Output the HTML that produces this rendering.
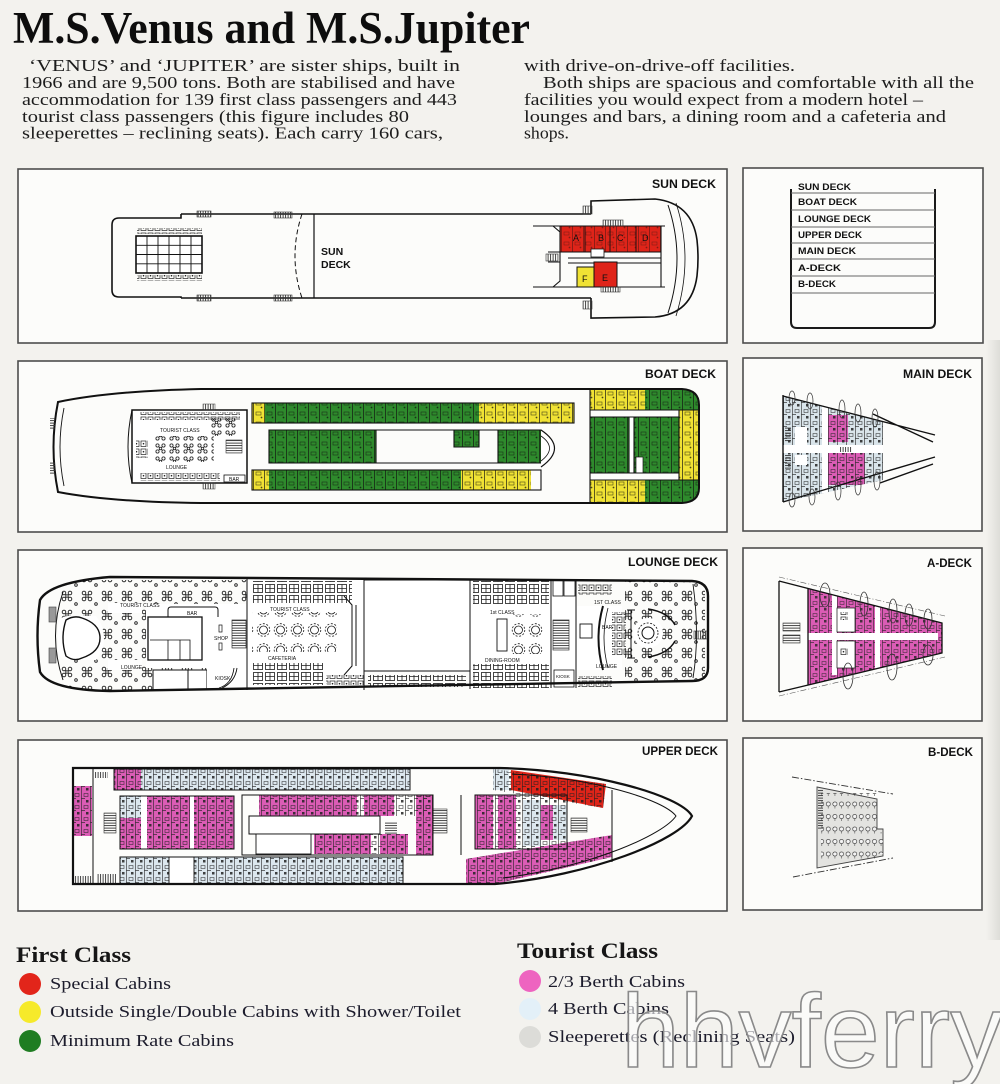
<!DOCTYPE html>
<html><head><meta charset="utf-8">
<style>
html,body{margin:0;padding:0;background:#f3f2ee;width:1000px;height:1084px;overflow:hidden}
svg{display:block}
.ser{font-family:"Liberation Serif",serif}
.san{font-family:"Liberation Sans",sans-serif;font-weight:bold}
.sn{font-family:"Liberation Sans",sans-serif}
</style></head><body>
<svg xmlns="http://www.w3.org/2000/svg" width="1000" height="1084" viewBox="0 0 1000 1084">
<defs>
<linearGradient id="edge" x1="0" x2="1" y1="0" y2="0">
<stop offset="0" stop-color="#d0d0cb" stop-opacity="0"/><stop offset="1" stop-color="#cfcfca" stop-opacity="0.6"/>
</linearGradient>
<pattern id="cab" width="11" height="10" patternUnits="userSpaceOnUse">
<path d="M0.5 0V10" stroke="#111" stroke-width="0.9"/>
<rect x="3" y="2" width="5" height="3" fill="none" stroke="#111" stroke-width="0.6"/>
<circle cx="8.5" cy="7.5" r="0.9" fill="#111"/>
</pattern>
<pattern id="cab2" width="9" height="12" patternUnits="userSpaceOnUse">
<path d="M0.5 0V12M0 6.5H4" stroke="#222" stroke-width="0.7"/>
<rect x="3" y="1.5" width="4" height="3" fill="none" stroke="#222" stroke-width="0.6"/>
<rect x="5" y="8" width="2.5" height="2.5" fill="#222"/>
</pattern>
<pattern id="clover" width="14" height="13" patternUnits="userSpaceOnUse">
<g fill="none" stroke="#1a1a1a" stroke-width="0.8">
<circle cx="3.5" cy="3.5" r="1.6"/><circle cx="9.5" cy="3.5" r="1.6"/>
<circle cx="3.5" cy="9.5" r="1.6"/><circle cx="9.5" cy="9.5" r="1.6"/>
<rect x="5.3" y="5.3" width="2.4" height="2.4"/>
</g>
</pattern>
<pattern id="cl2" width="20" height="19" patternUnits="userSpaceOnUse">
<g fill="none" stroke="#1a1a1a" stroke-width="0.9">
<circle cx="4" cy="4" r="1.8"/><circle cx="10" cy="4" r="1.8"/>
<circle cx="4" cy="10" r="1.8"/><circle cx="10" cy="10" r="1.8"/>
<rect x="5.8" y="5.8" width="2.4" height="2.4"/>
<circle cx="16" cy="15" r="1.3"/>
</g>
</pattern>
<pattern id="booth" width="12" height="11" patternUnits="userSpaceOnUse">
<g fill="none" stroke="#1a1a1a" stroke-width="0.8">
<rect x="1.5" y="1.5" width="9" height="8"/><path d="M6 1.5V9.5M1.5 5.5H10.5"/>
</g>
</pattern>
<pattern id="mini" width="7" height="8" patternUnits="userSpaceOnUse">
<rect x="1" y="1" width="5" height="5.5" fill="none" stroke="#222" stroke-width="0.7"/>
<circle cx="3.5" cy="3.7" r="0.8" fill="#222"/>
</pattern>
<pattern id="rtab" width="17" height="20" patternUnits="userSpaceOnUse">
<g fill="none" stroke="#1a1a1a" stroke-width="0.8">
<circle cx="8.5" cy="10" r="4"/><circle cx="8.5" cy="10" r="6.3" stroke-dasharray="2 1.6"/>
</g>
</pattern>
<pattern id="seat" width="6.6" height="12.5" patternUnits="userSpaceOnUse">
<circle cx="3.3" cy="4" r="2.1" fill="#f4f4f4" stroke="#333" stroke-width="0.6"/>
<path d="M3.3 6.3V8.5" stroke="#333" stroke-width="0.5"/>
</pattern>
<pattern id="hatch" width="2.5" height="4" patternUnits="userSpaceOnUse">
<path d="M0.6 0V4" stroke="#333" stroke-width="0.9"/>
</pattern>
<pattern id="hatchH" width="4" height="2.5" patternUnits="userSpaceOnUse">
<path d="M0 0.6H4" stroke="#333" stroke-width="0.9"/>
</pattern>
<clipPath id="bclip"><path d="M58,402 Q110,391 201,389 L682,389 Q699,390 699,405 L699,488 Q699,502 682,503 L201,503 Q110,502 58,492 Q49,447 58,402 Z"/></clipPath>
<clipPath id="lclip"><path d="M40,600 Q50,582 110,577 L692,581 Q708,582 708,596 L708,668 Q708,681 692,681 L110,691 Q50,690 40,672 Q35,636 40,600 Z"/></clipPath>
<clipPath id="uclip"><path d="M73,768 H500 C590,770 680,795 692,816 C680,840 590,876 495,884 H73 Z"/></clipPath>
<clipPath id="mclip"><path d="M783,396 L883,422 L883,480 L783,502 Z"/></clipPath>
<clipPath id="aclip"><path d="M779,581 L942,623 L942,653 L779,692 Z"/></clipPath>
</defs>

<rect width="1000" height="1084" fill="#f3f2ee"/>
<rect x="986" y="340" width="14" height="600" fill="url(#edge)"/>

<!-- Title -->
<text x="13" y="43" class="ser" font-weight="bold" font-size="45" textLength="517" lengthAdjust="spacingAndGlyphs" fill="#0d0d0d">M.S.Venus and M.S.Jupiter</text>

<g class="ser" font-size="17" fill="#1c1c1c">
<text x="29" y="71" textLength="431" lengthAdjust="spacingAndGlyphs">‘VENUS’ and ‘JUPITER’ are sister ships, built in</text>
<text x="22" y="88" textLength="433" lengthAdjust="spacingAndGlyphs">1966 and are 9,500 tons. Both are stabilised and have</text>
<text x="22" y="105" textLength="435" lengthAdjust="spacingAndGlyphs">accommodation for 139 first class passengers and 443</text>
<text x="22" y="122" textLength="387" lengthAdjust="spacingAndGlyphs">tourist class passengers (this figure includes 80</text>
<text x="22" y="138.5" textLength="421" lengthAdjust="spacingAndGlyphs">sleeperettes – reclining seats). Each carry 160 cars,</text>
<text x="524" y="71" textLength="271" lengthAdjust="spacingAndGlyphs">with drive-on-drive-off facilities.</text>
<text x="543" y="88" textLength="431" lengthAdjust="spacingAndGlyphs">Both ships are spacious and comfortable with all the</text>
<text x="524" y="105" textLength="399" lengthAdjust="spacingAndGlyphs">facilities you would expect from a modern hotel –</text>
<text x="524" y="122" textLength="422" lengthAdjust="spacingAndGlyphs">lounges and bars, a dining room and a cafeteria and</text>
<text x="524" y="138.5" textLength="45" lengthAdjust="spacingAndGlyphs">shops.</text>
</g>

<!-- Panels -->
<g fill="#fcfcfa" stroke="#4d4d4d" stroke-width="1.6">
<rect x="18" y="169" width="709" height="174"/>
<rect x="743" y="168" width="240" height="175"/>
<rect x="18" y="361" width="709" height="171"/>
<rect x="743" y="358" width="239" height="173"/>
<rect x="18" y="550" width="709" height="171"/>
<rect x="743" y="548" width="239" height="173"/>
<rect x="18" y="740" width="709" height="171"/>
<rect x="743" y="738" width="239" height="172"/>
</g>

<!-- ========== SUN DECK ========== -->
<text x="716" y="188" class="san" font-size="11.5" textLength="64" lengthAdjust="spacingAndGlyphs" text-anchor="end" fill="#111">SUN DECK</text>
<g fill="none" stroke="#111" stroke-width="1.6">
<path d="M181,214 H591 M181,298 H591"/>
<path d="M181,214 V218 H119 Q112,218 112,225 V290 Q112,297 119,297 H181 V298"/>
<path d="M591,214 V201 L655,199 Q692,203 697,240 Q699,258 697,276 Q692,314 655,317 L591,318 V298"/>
<path d="M668,205 Q686,258 668,313" stroke-width="1"/>
<path d="M676,203 Q694,258 676,316" stroke-width="0.8"/>
<path d="M314,214 V298" stroke-width="1.2"/>
<path d="M302,214 Q288,256 302,298" stroke-width="1" stroke-dasharray="5 3"/>
</g>
<g fill="none" stroke="#111" stroke-width="1.1">
<path d="M533,226 H665 M533,287 H665 M661,226 V287"/>
<path d="M553,226 L560,232 V281 L553,287"/>
<path d="M568,258 H661 M568,263 H661"/>
<path d="M548,252 H560 M548,262 H560"/>
</g>
<rect x="560" y="226" width="101" height="26" fill="#df2419" stroke="#111" stroke-width="1"/>
<rect x="560" y="226" width="101" height="26" fill="url(#cab)" opacity="0.45"/>
<path d="M585,226V252M610,226V252M636,226V252" stroke="#111" stroke-width="0.9"/>
<rect x="594" y="262" width="23" height="25" fill="#df2419" stroke="#111" stroke-width="1"/>
<rect x="577" y="267" width="17" height="20" fill="#f0e234" stroke="#111" stroke-width="1"/>
<rect x="591" y="249" width="13" height="8" fill="#fff" stroke="#111" stroke-width="0.8"/>
<g class="sn" font-size="9" fill="#111">
<text x="573" y="241">A</text><text x="598" y="241">B</text><text x="617" y="241">C</text><text x="642" y="241">D</text>
<text x="602" y="281">E</text><text x="582" y="282">F</text>
</g>
<g fill="url(#hatch)" stroke="#333" stroke-width="0.6">
<rect x="197" y="211" width="14" height="6"/><rect x="197" y="295" width="14" height="6"/>
<rect x="274" y="212" width="18" height="6"/><rect x="274" y="295" width="18" height="6"/>
<rect x="583" y="206" width="9" height="8"/><rect x="583" y="301" width="9" height="8"/>
<rect x="603" y="220" width="20" height="6"/><rect x="601" y="287" width="19" height="5"/>
<rect x="546" y="254" width="12" height="7"/>
</g>
<!-- pool -->
<rect x="136" y="236" width="66" height="37" fill="#fff" stroke="#111" stroke-width="1.6"/>
<path d="M147,236V273M158,236V273M169,236V273M180,236V273M191,236V273M136,245.3H202M136,254.5H202M136,263.8H202" stroke="#111" stroke-width="0.9"/>
<rect x="137" y="228" width="65" height="6" fill="url(#mini)"/>
<rect x="137" y="275" width="65" height="6" fill="url(#mini)"/>
<g class="san" font-size="10.5" fill="#111">
<text x="321" y="255">SUN</text><text x="321" y="268">DECK</text>
</g>

<!-- legend box -->
<path d="M791,189 V322 Q791,328 797,328 H929 Q935,328 935,322 V189" fill="none" stroke="#1a1a1a" stroke-width="2"/>
<path d="M791,193H935M791,210H935M791,227H935M791,243H935M791,259H935M791,276H935M791,293H935" stroke="#666" stroke-width="1"/>
<g class="san" font-size="9.5" fill="#111">
<text x="798" y="190" textLength="53" lengthAdjust="spacingAndGlyphs">SUN DECK</text>
<text x="798" y="205" textLength="59" lengthAdjust="spacingAndGlyphs">BOAT DECK</text>
<text x="798" y="222" textLength="73" lengthAdjust="spacingAndGlyphs">LOUNGE DECK</text>
<text x="798" y="238" textLength="64" lengthAdjust="spacingAndGlyphs">UPPER DECK</text>
<text x="798" y="254" textLength="58" lengthAdjust="spacingAndGlyphs">MAIN DECK</text>
<text x="798" y="271" textLength="43" lengthAdjust="spacingAndGlyphs">A-DECK</text>
<text x="798" y="287" textLength="38" lengthAdjust="spacingAndGlyphs">B-DECK</text>
</g>

<!-- ========== BOAT DECK ========== -->
<text x="716" y="378" class="san" font-size="11.5" textLength="71" lengthAdjust="spacingAndGlyphs" text-anchor="end" fill="#111">BOAT DECK</text>
<g clip-path="url(#bclip)">
<rect x="252" y="403" width="13" height="20" fill="#f0e234"/>
<rect x="265" y="403" width="214" height="20" fill="#2e8a2c"/>
<rect x="479" y="403" width="95" height="20" fill="#f0e234"/>
<rect x="252" y="470" width="17" height="20" fill="#f0e234"/>
<rect x="269" y="470" width="192" height="20" fill="#2e8a2c"/>
<rect x="461" y="470" width="70" height="20" fill="#f0e234"/>
<rect x="269" y="430" width="107" height="33" fill="#2e8a2c"/>
<rect x="454" y="430" width="25" height="17" fill="#2e8a2c"/>
<rect x="498" y="430" width="43" height="33" fill="#2e8a2c"/>
<rect x="590" y="389" width="55" height="21" fill="#f0e234"/>
<rect x="645" y="389" width="56" height="21" fill="#2e8a2c"/>
<rect x="679" y="410" width="22" height="70" fill="#f0e234"/>
<rect x="590" y="417" width="39" height="56" fill="#2e8a2c"/>
<rect x="634" y="417" width="45" height="56" fill="#2e8a2c"/>
<rect x="590" y="480" width="55" height="24" fill="#f0e234"/>
<rect x="645" y="480" width="56" height="24" fill="#2e8a2c"/>
<g fill="url(#cab)" opacity="0.75">
<rect x="252" y="403" width="322" height="20"/><rect x="252" y="470" width="279" height="20"/>
<rect x="269" y="430" width="107" height="33"/><rect x="454" y="430" width="25" height="17"/>
<rect x="498" y="430" width="43" height="33"/><rect x="590" y="389" width="111" height="21"/>
<rect x="679" y="410" width="22" height="70"/><rect x="590" y="417" width="89" height="56"/>
<rect x="590" y="480" width="111" height="24"/>
</g>
<rect x="636" y="457" width="7" height="16" fill="#fff" stroke="#111" stroke-width="0.7"/>
<rect x="629" y="417" width="5" height="56" fill="#fff"/>
</g>
<g fill="none" stroke="#111" stroke-width="1.1">
<rect x="252" y="403" width="322" height="20"/>
<rect x="252" y="470" width="289" height="20"/>
<path d="M269,430 H541 V463 H269 Z"/>
<path d="M376,430 V463 M454,430 V447 H479 V430 M498,430 V463"/>
<path d="M590,389 V503 M590,410 H699 M590,417 H679 M590,473 H679 M590,480 H699 M629,417 V473 M634,417 V473 M679,410 V480"/>
</g>
<path d="M541,430 Q568,448 541,467" fill="#fff" stroke="#111" stroke-width="1.2"/>
<path d="M541,436 Q558,448 541,461" fill="none" stroke="#111" stroke-width="0.8"/>
<path d="M58,402 Q110,391 201,389 L682,389 Q699,390 699,405 L699,488 Q699,502 682,503 L201,503 Q110,502 58,492 Q49,447 58,402 Z" fill="none" stroke="#111" stroke-width="2"/>
<path d="M64,408 Q56,447 64,486" fill="none" stroke="#111" stroke-width="0.9"/>
<rect x="50" y="418" width="5" height="12" fill="url(#hatchH)"/>
<rect x="50" y="462" width="5" height="12" fill="url(#hatchH)"/>
<!-- tourist lounge -->
<rect x="132" y="410" width="115" height="73" fill="#fff" stroke="#111" stroke-width="1.5"/>
<path d="M132,410 Q124,447 132,483" fill="none" stroke="#111" stroke-width="1"/>
<rect x="140" y="412" width="100" height="8" fill="url(#mini)"/>
<rect x="140" y="473" width="80" height="8" fill="url(#mini)"/>
<rect x="152" y="436" width="62" height="26" fill="url(#clover)"/>
<rect x="210" y="418" width="26" height="18" fill="url(#clover)"/>
<rect x="136" y="440" width="12" height="18" fill="url(#mini)"/>
<rect x="226" y="440" width="16" height="13" fill="url(#hatchH)" stroke="#333" stroke-width="0.6"/>
<rect x="224" y="475" width="21" height="7" fill="#fff" stroke="#111" stroke-width="0.8"/>
<rect x="203" y="404" width="12" height="6" fill="url(#hatch)" stroke="#333" stroke-width="0.5"/>
<rect x="203" y="483" width="12" height="6" fill="url(#hatch)" stroke="#333" stroke-width="0.5"/>
<g class="sn" font-size="5" fill="#111">
<text x="160" y="432">TOURIST CLASS</text><text x="166" y="469">LOUNGE</text><text x="229" y="481">BAR</text>
</g>

<!-- ========== LOUNGE DECK ========== -->
<text x="718" y="566" class="san" font-size="11.5" textLength="90" lengthAdjust="spacingAndGlyphs" text-anchor="end" fill="#111">LOUNGE DECK</text>
<g clip-path="url(#lclip)">
<rect x="60" y="580" width="187" height="111" fill="url(#cl2)"/>
<rect x="625" y="580" width="80" height="111" fill="url(#cl2)"/>
</g>
<!-- tourist lounge whites -->
<path d="M68,616 Q58,616 58,628 V648 Q58,660 68,660 H96 Q104,650 104,638 Q104,626 96,616 Z" fill="#fff"/>
<path d="M66,620 Q60,638 66,656 Q74,662 82,658 Q100,652 100,638 Q100,624 82,618 Q74,615 66,620 Z" fill="#fff" stroke="#111" stroke-width="1.4"/>
<path d="M63,592 Q48,636 63,680" fill="none" stroke="#111" stroke-width="1"/>
<rect x="49" y="607" width="7" height="15" fill="#999" stroke="#444" stroke-width="0.6"/>
<rect x="49" y="648" width="7" height="15" fill="#999" stroke="#444" stroke-width="0.6"/>
<rect x="146" y="604" width="101" height="64" fill="#fff"/>
<rect x="108" y="603" width="34" height="10" fill="#fff"/>
<rect x="108" y="660" width="34" height="10" fill="#fff"/>
<path d="M168,617 V610 Q168,607 171,607 H215 Q218,607 218,610 V617" fill="#fff" stroke="#111" stroke-width="1"/>
<rect x="148" y="617" width="54" height="43" fill="#fff" stroke="#111" stroke-width="1.3"/>
<path d="M150,640 H190 V660 M168,640 V660 M180,640 V660" fill="none" stroke="#111" stroke-width="0.8"/>
<rect x="232" y="620" width="14" height="28" fill="url(#hatchH)" stroke="#333" stroke-width="0.7"/>
<rect x="219" y="625" width="3" height="7" fill="none" stroke="#111" stroke-width="0.7"/>
<rect x="219" y="643" width="3" height="7" fill="none" stroke="#111" stroke-width="0.7"/>
<rect x="153" y="670" width="35" height="20" fill="#fff" stroke="#111" stroke-width="1"/>
<rect x="188" y="670" width="19" height="20" fill="#fff" stroke="#111" stroke-width="1"/>
<rect x="207" y="662" width="40" height="28" fill="#fff"/>
<path d="M219,688 Q232,684 234,668 M222,688 Q235,682 237,668" fill="none" stroke="#111" stroke-width="0.9"/>
<g class="sn" font-size="5" fill="#111">
<text x="120" y="607">TOURIST CLASS</text><text x="187" y="615">BAR</text>
<text x="214" y="640">SHOP</text><text x="121" y="669">LOUNGE</text><text x="215" y="680">KIOSK</text>
</g>
<!-- cafeteria -->
<rect x="248" y="579" width="116" height="111" fill="#fff"/>
<rect x="252" y="581" width="100" height="22" fill="url(#booth)"/>
<rect x="252" y="612" width="85" height="40" fill="url(#rtab)"/>
<rect x="252" y="663" width="72" height="22" fill="url(#booth)"/>
<rect x="326" y="675" width="38" height="10" fill="url(#mini)"/>
<path d="M344,596 L352,605 V666 L344,675 M356,605 V666" fill="none" stroke="#111" stroke-width="1"/>
<g class="sn" font-size="5" fill="#111">
<text x="270" y="611">TOURIST CLASS</text><text x="268" y="660">CAFETERIA</text>
</g>
<!-- center void -->
<rect x="364" y="580" width="106" height="91" fill="#fff" stroke="#111" stroke-width="1"/>
<rect x="368" y="675" width="98" height="12" fill="url(#booth)"/>
<!-- dining -->
<rect x="471" y="580" width="80" height="110" fill="#fff"/>
<rect x="473" y="581" width="76" height="24" fill="url(#booth)"/>
<rect x="497" y="619" width="10" height="32" fill="#fff" stroke="#111" stroke-width="0.9"/>
<rect x="510" y="614" width="34" height="40" fill="url(#rtab)"/>
<rect x="473" y="664" width="76" height="24" fill="url(#booth)"/>
<g class="sn" font-size="5" fill="#111">
<text x="490" y="614">1st CLASS</text><text x="485" y="662">DINING-ROOM</text>
</g>
<!-- between -->
<rect x="551" y="580" width="25" height="110" fill="#fff"/>
<rect x="553" y="580" width="10" height="16" fill="none" stroke="#111" stroke-width="0.8"/>
<rect x="564" y="580" width="11" height="16" fill="none" stroke="#111" stroke-width="0.8"/>
<rect x="553" y="620" width="16" height="30" fill="url(#hatchH)" stroke="#333" stroke-width="0.7"/>
<rect x="554" y="670" width="20" height="17" fill="#fff" stroke="#111" stroke-width="0.8"/>
<text x="556" y="678" class="sn" font-size="4.5" fill="#111">KIOSK</text>
<!-- 1st class lounge -->
<rect x="577" y="606" width="45" height="64" fill="#fff"/>
<rect x="578" y="583" width="34" height="12" fill="url(#mini)"/>
<rect x="578" y="676" width="34" height="11" fill="url(#mini)"/>
<circle cx="648" cy="633" r="15" fill="#fff"/>
<circle cx="648" cy="633" r="6" fill="none" stroke="#111" stroke-width="1"/>
<circle cx="648" cy="633" r="10" fill="none" stroke="#111" stroke-width="0.8" stroke-dasharray="2 1.5"/>
<path d="M603,606 Q594,638 603,670" fill="none" stroke="#111" stroke-width="2"/>
<path d="M608,608 Q600,638 608,668" fill="none" stroke="#111" stroke-width="0.8"/>
<path d="M631,610 V658 M627,610 H635 M627,658 H635" fill="none" stroke="#111" stroke-width="1"/>
<rect x="612" y="612" width="14" height="44" fill="url(#mini)"/>
<path d="M648,609 Q668,612 675,625" fill="none" stroke="#111" stroke-width="1.4"/>
<path d="M648,657 Q668,654 675,641" fill="none" stroke="#111" stroke-width="1.4"/>
<rect x="580" y="624" width="12" height="14" fill="#fff" stroke="#111" stroke-width="0.9"/>
<rect x="694" y="631" width="13" height="8" fill="url(#hatch)" stroke="#333" stroke-width="0.6"/>
<g class="sn" font-size="5" fill="#111">
<text x="594" y="604">1ST CLASS</text><text x="602" y="629">BAR</text><text x="596" y="668">LOUNGE</text>
</g>
<g fill="none" stroke="#111" stroke-width="1">
<path d="M247,578 V690 M364,579 V690 M470,580 V689 M551,580 V688 M576,580 V688"/>
</g>
<path d="M40,600 Q50,582 110,577 L692,581 Q708,582 708,596 L708,668 Q708,681 692,681 L110,691 Q50,690 40,672 Q35,636 40,600 Z" fill="none" stroke="#111" stroke-width="2.4"/>
<path d="M693,584 Q700,636 693,678" fill="none" stroke="#111" stroke-width="0.9"/>

<!-- ========== UPPER DECK ========== -->
<text x="718" y="755" class="san" font-size="11.5" textLength="76" lengthAdjust="spacingAndGlyphs" text-anchor="end" fill="#111">UPPER DECK</text>
<g clip-path="url(#uclip)">
<rect x="73" y="768" width="620" height="116" fill="#fdfdfb"/>
<g fill="#db5cb5">
<rect x="74" y="786" width="18" height="50"/>
<rect x="114" y="769" width="27" height="21"/>
<rect x="120" y="818" width="21" height="31"/>
<rect x="147" y="796" width="43" height="53"/>
<rect x="194" y="796" width="40" height="53"/>
<rect x="259" y="795" width="98" height="21"/>
<rect x="364" y="795" width="30" height="21"/>
<rect x="416" y="795" width="17" height="60"/>
<rect x="314" y="834" width="57" height="20"/>
<rect x="380" y="834" width="28" height="20"/>
<rect x="475" y="795" width="18" height="54"/>
<rect x="498" y="795" width="18" height="54"/>
<rect x="541" y="805" width="12" height="35"/>
<polygon points="466,859 612,835 612,857 495,884 466,884"/>
</g>
<g fill="#dce7ee">
<rect x="141" y="769" width="269" height="21"/>
<rect x="120" y="796" width="21" height="22"/>
<rect x="523" y="800" width="18" height="46"/>
<rect x="553" y="805" width="14" height="35"/>
<rect x="120" y="857" width="49" height="27"/>
<rect x="194" y="857" width="209" height="27"/>
<rect x="493" y="769" width="16" height="21"/>
</g>
<polygon points="511,770 606,784 603,808 511,790" fill="#df2419"/>
<g fill="url(#cab2)" opacity="0.85">
<rect x="74" y="786" width="18" height="50"/>
<rect x="114" y="769" width="296" height="21"/>
<rect x="120" y="796" width="114" height="53"/>
<rect x="259" y="795" width="174" height="21"/>
<rect x="416" y="795" width="17" height="60"/>
<rect x="314" y="834" width="94" height="20"/>
<rect x="475" y="795" width="92" height="54"/>
<rect x="120" y="857" width="283" height="27"/>
<polygon points="466,859 612,835 612,857 495,884 466,884"/>
<polygon points="493,769 606,784 603,808 493,790"/>
</g>
<rect x="169" y="857" width="25" height="27" fill="#fff" stroke="#111" stroke-width="0.9"/>
<rect x="141" y="796" width="6" height="53" fill="#fff"/>
<rect x="190" y="796" width="4" height="53" fill="#fff"/>
<rect x="249" y="816" width="131" height="18" fill="#fff" stroke="#111" stroke-width="1"/>
<rect x="256" y="834" width="55" height="20" fill="#fff" stroke="#111" stroke-width="0.9"/>
<rect x="95" y="772" width="13" height="6" fill="url(#hatch)"/>
<rect x="97" y="874" width="19" height="9" fill="url(#hatch)"/>
<rect x="104" y="813" width="12" height="20" fill="url(#hatchH)" stroke="#333" stroke-width="0.6"/>
<rect x="433" y="809" width="14" height="24" fill="url(#hatchH)" stroke="#333" stroke-width="0.6"/>
<rect x="571" y="818" width="16" height="14" fill="url(#hatchH)" stroke="#333" stroke-width="0.6"/>
<rect x="74" y="876" width="18" height="8" fill="url(#hatch)"/>
<rect x="385" y="822" width="12" height="12" fill="url(#hatchH)"/>
</g>
<g fill="none" stroke="#111" stroke-width="1">
<rect x="73" y="768" width="20" height="116"/>
<rect x="114" y="769" width="296" height="21"/>
<rect x="120" y="796" width="114" height="53"/>
<rect x="242" y="795" width="191" height="60"/>
<rect x="120" y="857" width="283" height="27"/>
<rect x="475" y="795" width="92" height="54"/>
<path d="M461,795 V855 M612,790 V862"/>
<path d="M512,774 C595,778 664,800 676,816 C664,834 595,866 503,878"/>
</g>
<path d="M73,768 H500 C590,770 680,795 692,816 C680,840 590,876 495,884 H73 Z" fill="none" stroke="#111" stroke-width="2.2"/>

<!-- ========== MAIN DECK ========== -->
<text x="972" y="378" class="san" font-size="11.5" textLength="69" lengthAdjust="spacingAndGlyphs" text-anchor="end" fill="#111">MAIN DECK</text>
<g clip-path="url(#mclip)">
<rect x="783" y="396" width="100" height="106" fill="#d9e4ea"/>
<rect x="828" y="415" width="20" height="27" fill="#db5cb5"/>
<rect x="828" y="453" width="37" height="32" fill="#db5cb5"/>
<rect x="783" y="396" width="100" height="106" fill="url(#cab2)" opacity="0.85"/>
<rect x="783" y="445" width="100" height="8" fill="#fff"/>
<rect x="822" y="405" width="6" height="90" fill="#fff"/>
<rect x="795" y="427" width="12" height="18" fill="#fff"/>
<rect x="795" y="455" width="12" height="10" fill="#fff"/>
<rect x="785" y="427" width="6" height="15" fill="url(#hatchH)"/>
<rect x="785" y="455" width="6" height="14" fill="url(#hatchH)"/>
<rect x="840" y="447" width="12" height="5" fill="url(#hatch)"/>
</g>
<g fill="none" stroke="#111" stroke-width="1.4">
<path d="M783,395 V502 M783,396 L935,435 M783,502 L935,457 M873,414 L933,442 M880,483 L933,464"/>
</g>
<g fill="none" stroke="#333" stroke-width="0.7">
<ellipse cx="792" cy="398" rx="3" ry="7"/><ellipse cx="810" cy="401" rx="3" ry="8"/>
<ellipse cx="842" cy="409" rx="3" ry="9"/><ellipse cx="858" cy="413" rx="3" ry="9"/>
<ellipse cx="875" cy="418" rx="3" ry="9"/>
<ellipse cx="792" cy="500" rx="3" ry="7"/><ellipse cx="812" cy="497" rx="3" ry="8"/>
<ellipse cx="838" cy="491" rx="3" ry="9"/><ellipse cx="858" cy="486" rx="3" ry="9"/>
<ellipse cx="877" cy="481" rx="3" ry="9"/>
</g>

<!-- ========== A-DECK ========== -->
<text x="972" y="567" class="san" font-size="11.5" textLength="45" lengthAdjust="spacingAndGlyphs" text-anchor="end" fill="#111">A-DECK</text>
<g clip-path="url(#aclip)">
<polygon points="808,588 942,622 942,653 808,685" fill="#db5cb5"/>
<polygon points="808,588 942,622 942,653 808,685" fill="url(#cab2)" opacity="0.8"/>
<rect x="790" y="633" width="148" height="7" fill="#fff"/>
<rect x="832" y="595" width="5" height="80" fill="#fff"/>
<rect x="875" y="600" width="5" height="72" fill="#fff"/>
<rect x="837" y="608" width="18" height="24" fill="#fff" stroke="#111" stroke-width="0.7"/>
<rect x="837" y="641" width="18" height="27" fill="#fff" stroke="#111" stroke-width="0.7"/>
<rect x="840" y="612" width="8" height="8" fill="url(#mini)"/>
<rect x="840" y="648" width="8" height="8" fill="url(#mini)"/>
</g>
<rect x="783" y="623" width="17" height="8" fill="url(#hatchH)" stroke="#333" stroke-width="0.6"/>
<rect x="783" y="635" width="17" height="8" fill="url(#hatchH)" stroke="#333" stroke-width="0.6"/>
<g fill="none" stroke="#111" stroke-width="1.3">
<path d="M779,581 V692 M779,581 L942,623 V653 L779,692 M808,588 V685"/>
</g>
<path d="M779,577 L945,616 M779,696 L945,657" fill="none" stroke="#555" stroke-width="0.6" stroke-dasharray="6 2 1 2"/>
<g fill="none" stroke="#333" stroke-width="0.8">
<ellipse cx="825" cy="595" rx="5" ry="12"/><ellipse cx="864" cy="604" rx="4" ry="12"/>
<ellipse cx="893" cy="611" rx="4" ry="12"/><ellipse cx="909" cy="615" rx="4" ry="11"/>
<ellipse cx="928" cy="619" rx="4" ry="10"/>
<ellipse cx="848" cy="676" rx="5" ry="13"/><ellipse cx="892" cy="667" rx="5" ry="13"/>
<ellipse cx="928" cy="655" rx="5" ry="10"/>
</g>

<!-- ========== B-DECK ========== -->
<text x="973" y="756" class="san" font-size="11.5" textLength="45" lengthAdjust="spacingAndGlyphs" text-anchor="end" fill="#111">B-DECK</text>
<path d="M792,777 L893,794 M793,877 L893,858" fill="none" stroke="#333" stroke-width="0.9" stroke-dasharray="7 2 1.5 2"/>
<polygon points="817,787 877,799 877,829 883,829 883,856 817,868" fill="#e3e3e0" stroke="#444" stroke-width="0.9"/>
<rect x="821" y="793" width="56" height="70" fill="url(#seat)"/>
<rect x="877" y="832" width="6" height="22" fill="url(#seat)"/>
<rect x="818" y="790" width="5" height="40" fill="url(#hatchH)"/>

<!-- ========== LEGEND ========== -->
<text x="16" y="962" class="ser" font-weight="bold" font-size="22" textLength="115" lengthAdjust="spacingAndGlyphs" fill="#161616">First Class</text>
<circle cx="30" cy="984" r="11" fill="#e2251a"/>
<circle cx="30" cy="1012" r="11" fill="#f6ea2a"/>
<circle cx="30" cy="1041" r="11" fill="#1f7d22"/>
<g class="ser" font-size="17" fill="#1c1c2c">
<text x="50" y="989" textLength="121" lengthAdjust="spacingAndGlyphs">Special Cabins</text>
<text x="50" y="1017" textLength="411" lengthAdjust="spacingAndGlyphs">Outside Single/Double Cabins with Shower/Toilet</text>
<text x="50" y="1046" textLength="184" lengthAdjust="spacingAndGlyphs">Minimum Rate Cabins</text>
</g>
<text x="517" y="958" class="ser" font-weight="bold" font-size="22" textLength="141" lengthAdjust="spacingAndGlyphs" fill="#161616">Tourist Class</text>
<circle cx="530" cy="981" r="11" fill="#ee64c0"/>
<circle cx="530" cy="1009" r="11" fill="#e3f0f8"/>
<circle cx="530" cy="1037" r="11" fill="#dcdcd8"/>
<g class="ser" font-size="17" fill="#1c1c2c">
<text x="548" y="987" textLength="137" lengthAdjust="spacingAndGlyphs">2/3 Berth Cabins</text>
<text x="548" y="1014" textLength="121" lengthAdjust="spacingAndGlyphs">4 Berth Cabins</text>
<text x="548" y="1042" textLength="247" lengthAdjust="spacingAndGlyphs">Sleeperettes (Reclining Seats)</text>
</g>
<text x="621" y="1067" class="sn" font-size="104" textLength="382" lengthAdjust="spacingAndGlyphs" fill="#ffffff" fill-opacity="0.6" stroke="#8a8a8a" stroke-width="1.6">hhvferry</text>
</svg>
</body></html>
